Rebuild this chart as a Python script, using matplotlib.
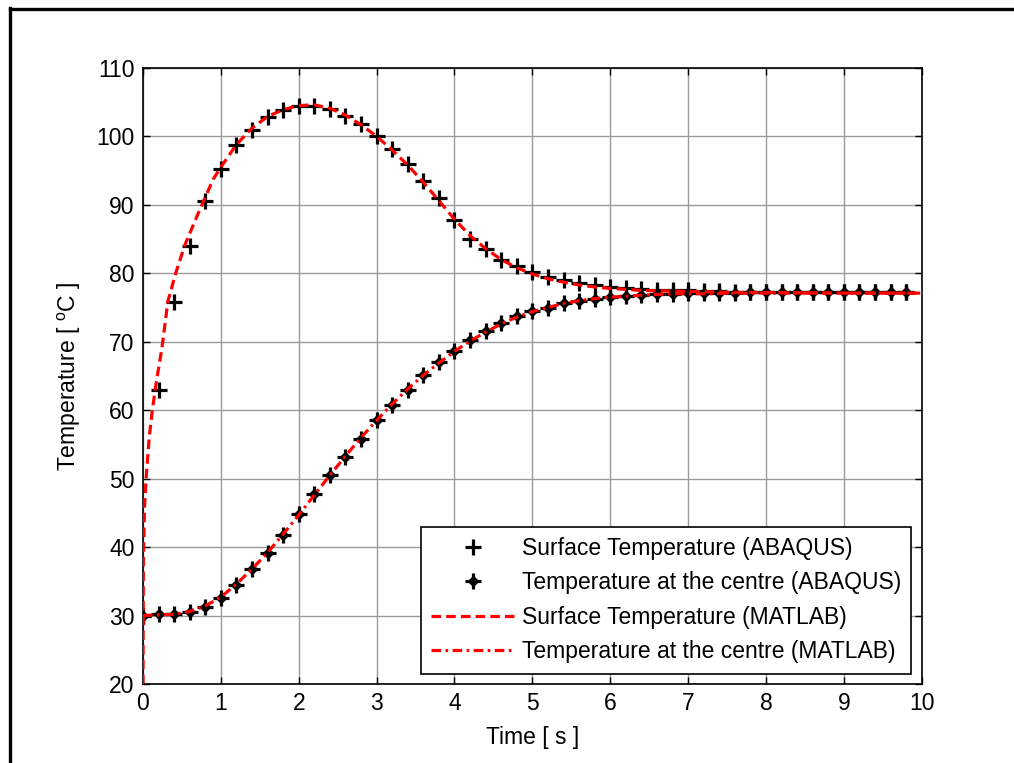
import numpy as np
import matplotlib
matplotlib.use("Agg")
import matplotlib.pyplot as plt
from matplotlib.lines import Line2D

plt.rcParams['font.family'] = ['Liberation Sans', 'DejaVu Sans']
plt.rcParams['mathtext.fontset'] = 'custom'
plt.rcParams['mathtext.rm'] = 'Liberation Sans'

# ABAQUS samples (every 0.2 s)
t_abq = [0.0, 0.2, 0.4, 0.6, 0.8, 1.0, 1.2, 1.4, 1.6, 1.8, 2.0, 2.2, 2.4, 2.6, 2.8,
         3.0, 3.2, 3.4, 3.6, 3.8, 4.0, 4.2, 4.4, 4.6, 4.8, 5.0, 5.2, 5.4, 5.6, 5.8,
         6.0, 6.2, 6.4, 6.6, 6.8, 7.0, 7.2, 7.4, 7.6, 7.8, 8.0, 8.2, 8.4, 8.6, 8.8,
         9.0, 9.2, 9.4, 9.6, 9.8]
surf_abq = [30.0, 63.0, 75.8, 84.0, 90.5, 95.3, 98.7, 101.0, 102.8, 103.8, 104.4, 104.5,
            104.0, 103.0, 101.8, 100.0, 98.2, 96.0, 93.5, 91.0, 87.8, 85.0, 83.5, 82.0,
            81.0, 80.2, 79.5, 79.0, 78.6, 78.3, 78.0, 77.9, 77.7, 77.6, 77.5, 77.5, 77.4,
            77.4, 77.3, 77.3, 77.3, 77.3, 77.3, 77.3, 77.3, 77.3, 77.3, 77.3, 77.3, 77.3]
centre_abq = [30.0, 30.2, 30.2, 30.5, 31.2, 32.5, 34.5, 36.8, 39.2, 41.8, 44.8, 47.7,
              50.5, 53.2, 55.8, 58.5, 60.8, 63.0, 65.2, 67.0, 68.7, 70.2, 71.5, 72.7,
              73.8, 74.5, 75.0, 75.6, 76.0, 76.3, 76.5, 76.7, 76.9, 77.0, 77.0, 77.1,
              77.1, 77.1, 77.1, 77.2, 77.2, 77.2, 77.2, 77.2, 77.2, 77.2, 77.2, 77.2,
              77.2, 77.2]

# MATLAB curves
t_mat_s = [0.0, 0.005, 0.02, 0.04, 0.08, 0.12, 0.175, 0.24, 0.32, 0.42, 0.54, 0.7, 0.9,
           1.0, 1.2, 1.4, 1.6, 1.8, 2.0, 2.2, 2.4, 2.6, 2.8, 3.0, 3.2, 3.4, 3.6, 3.8,
           4.0, 4.2, 4.4, 4.6, 4.8, 5.0, 5.2, 5.4, 5.6, 5.8, 6.0, 6.4, 6.8, 7.2, 7.6,
           8.0, 9.0, 10.0]
surf_mat = [20.0, 38.0, 46.0, 50.0, 56.0, 60.0, 64.4, 68.8, 75.9, 80.0, 84.2, 88.5, 93.7,
            95.5, 98.8, 101.2, 102.9, 103.9, 104.5, 104.6, 104.1, 103.1, 101.7, 100.0,
            98.0, 95.8, 93.3, 90.6, 87.9, 85.5, 83.6, 82.0, 80.8, 79.9, 79.2, 78.7,
            78.3, 78.0, 77.8, 77.5, 77.4, 77.3, 77.2, 77.2, 77.1, 77.1]
t_mat_c = [0.0, 0.2, 0.4, 0.6, 0.8, 1.0, 1.2, 1.4, 1.6, 1.8, 2.0, 2.2, 2.4, 2.6, 2.8,
           3.0, 3.2, 3.4, 3.6, 3.8, 4.0, 4.2, 4.4, 4.6, 4.8, 5.0, 5.2, 5.4, 5.6, 5.8,
           6.0, 6.4, 6.8, 7.2, 7.6, 8.0, 9.0, 10.0]
centre_mat = [30.0, 30.1, 30.2, 30.6, 31.4, 32.7, 34.6, 36.8, 39.2, 41.9, 44.7, 47.6,
              50.5, 53.3, 56.0, 58.5, 60.9, 63.1, 65.1, 66.9, 68.6, 70.1, 71.4, 72.6,
              73.6, 74.4, 75.0, 75.6, 76.0, 76.3, 76.5, 76.8, 77.0, 77.0, 77.1, 77.1,
              77.1, 77.1]

FS = 16.5

fig = plt.figure(figsize=(10.14, 7.63), dpi=100)
ax = fig.add_axes([0.141, 0.1035, 0.768, 0.8075])

ax.plot(t_abq, surf_abq, linestyle='none', marker='+', color='k',
        markersize=12, markeredgewidth=2.3, zorder=3)
ax.plot(t_abq, centre_abq, linestyle='none', marker='+', color='k',
        markersize=12, markeredgewidth=2.3, zorder=3)
ax.plot(t_abq, centre_abq, linestyle='none', marker='D', color='k',
        markersize=5.5, zorder=3)
ax.plot(t_mat_s, surf_mat, color='red', linestyle=(0, (3, 1.6)), linewidth=2.3, zorder=4)
ax.plot(t_mat_c, centre_mat, color='red', linestyle=(0, (3, 1.4, 0.8, 1.4)),
        linewidth=2.3, zorder=4)

ax.set_xlim(0, 10)
ax.set_ylim(20, 110)
ax.set_xticks(np.arange(0, 11, 1))
ax.set_yticks(np.arange(20, 111, 10))
ax.grid(True, color='#9a9a9a', linewidth=1.0)
ax.set_axisbelow(True)
ax.tick_params(direction='in', top=True, right=True, length=5, width=1,
               labelsize=FS, pad=6)
for s in ax.spines.values():
    s.set_linewidth(1.2)

ax.set_xlabel('Time [ s ]', fontsize=FS, labelpad=8)
ax.set_ylabel('Temperature [ $^{\\mathrm{o}}$C ]', fontsize=FS, labelpad=10)

h1 = Line2D([], [], linestyle='none', marker='+', color='k', markersize=12,
            markeredgewidth=2.3)
h2a = Line2D([], [], linestyle='none', marker='+', color='k', markersize=12,
             markeredgewidth=2.3)
h2b = Line2D([], [], linestyle='none', marker='D', color='k', markersize=5.5)
h3 = Line2D([], [], color='red', linestyle=(0, (3, 1.6)), linewidth=2.3)
h4 = Line2D([], [], color='red', linestyle=(0, (3, 1.4, 0.8, 1.4)), linewidth=2.3)
leg = ax.legend([h1, (h2a, h2b), h3, h4],
                ['Surface Temperature (ABAQUS)', 'Temperature at the centre (ABAQUS)',
                 'Surface Temperature (MATLAB)', 'Temperature at the centre (MATLAB)'],
                loc='lower right', fontsize=FS, handlelength=3.6, labelspacing=0.5,
                borderaxespad=0.45, fancybox=False, framealpha=1, edgecolor='k',
                borderpad=0.45, handletextpad=0.35)
leg.get_frame().set_linewidth(1.2)

# outer frame (left and top edges)
fig.add_artist(Line2D([0.0095, 0.0095], [0.0, 0.989], color='k', linewidth=2.4,
                      transform=fig.transFigure))
fig.add_artist(Line2D([0.0095, 1.0], [0.988, 0.988], color='k', linewidth=2.4,
                      transform=fig.transFigure))

fig.savefig('out.png', dpi=100)
